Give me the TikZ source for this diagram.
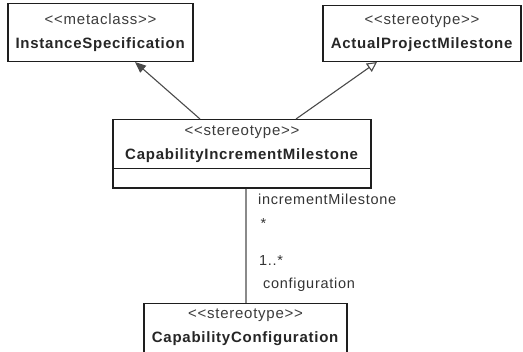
\documentclass[tikz,border=0pt]{standalone}
\usepackage{fontspec}
\setmainfont{Liberation Sans}
\newfontfamily\umlfont[LetterSpace=5]{Liberation Sans}
\usepackage{tikz}
\usetikzlibrary{positioning,shapes.multipart,arrows.meta}

\definecolor{umlline}{HTML}{1E1E1E}
\definecolor{nametext}{HTML}{262626}
\definecolor{stertext}{HTML}{3C3C3C}
\definecolor{lbltext}{HTML}{333333}
\definecolor{arrowline}{HTML}{4A4A4A}
\definecolor{assocline}{HTML}{8A8A8A}

\newcommand{\ster}[1]{{\color{stertext}<<#1>>}}

\begin{document}
\begin{tikzpicture}[
  node distance=57pt,
  cls/.style={draw=umlline, line width=1.3pt, fill=white, align=center, inner xsep=4pt, inner ysep=5.5pt, text=nametext, font=\umlfont\fontsize{15}{24}\selectfont},
  clsbig/.style={cls, minimum height=58pt},
  clssplit/.style={cls, rectangle split, rectangle split parts=2, rectangle split empty part height=7pt},
  lbl/.style={font=\umlfont\fontsize{14.5}{17}\selectfont, text=lbltext, inner sep=0pt, anchor=base west},
  gen/.style={draw=arrowline, line width=1.1pt, -{Triangle[open, length=10pt, width=10pt]}},
  ext/.style={draw=arrowline, line width=1.1pt, -{Triangle[length=11pt, width=9pt]}},
  assoc/.style={draw=assocline, line width=1.1pt}
]
  \useasboundingbox (0,0) rectangle (523pt,-352pt);
  \clip (0,0) rectangle (523pt,-352pt);

  % Classes
  \node[clssplit, minimum width=258pt, anchor=north] (cim) at (242pt,-119pt) {\ster{stereotype}\\\textbf{CapabilityIncrementMilestone}\nodepart{two}};
  \node[clsbig, minimum width=185pt, above=of cim, xshift=-141.5pt] (inst) {\ster{metaclass}\\\textbf{InstanceSpecification}};
  \node[clsbig, minimum width=198pt, minimum height=56pt, above=of cim, xshift=180pt] (apm) {\ster{stereotype}\\\textbf{ActualProjectMilestone}};
  \node[cls, minimum width=203pt, text depth=40pt, below=114pt of cim, xshift=3.5pt] (cfg) {\ster{stereotype}\\\textbf{CapabilityConfiguration}};

  % Relations
  \draw[ext] ([xshift=-42pt]cim.north) -- ([xshift=34.5pt]inst.south);
  \draw[gen] ([xshift=54pt]cim.north) -- ([xshift=-45pt]apm.south);
  \draw[assoc] ([xshift=4pt]cim.south) -- ([xshift=4pt]cim.south |- cfg.north);

  % Association ends
  \node[lbl] (rolecim) at ([xshift=16pt,yshift=-15.5pt]cim.south) {incrementMilestone};
  \node[lbl] (multcim) at ([xshift=18.5pt,yshift=-39.7pt]cim.south) {*};
  \node[lbl] (multcfg) at ([xshift=13.5pt,yshift=37pt]cfg.north) {1..*};
  \node[lbl] (rolecfg) at ([xshift=17.5pt,yshift=14.5pt]cfg.north) {configuration};
\end{tikzpicture}
\end{document}
